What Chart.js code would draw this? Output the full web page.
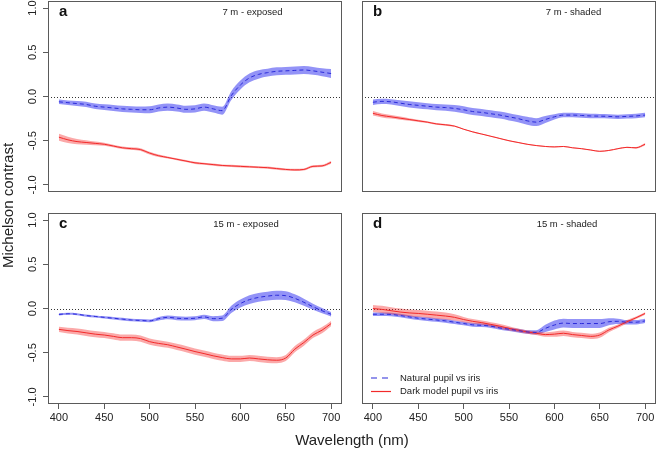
<!DOCTYPE html>
<html>
<head>
<meta charset="utf-8">
<script src="https://cdn.jsdelivr.net/npm/chart.js@4.4.1/dist/chart.umd.min.js"></script>
<style>
body { margin: 0; background: #fff; }
#wrap { position: relative; width: 657px; height: 450px; overflow: hidden; font-family: "Liberation Sans", Arial, sans-serif; }
canvas { position: absolute; }
.ttl { position: absolute; font-size: 15px; font-weight: normal; line-height: 17px; color: #222; white-space: nowrap; text-align: center; }
#xt { left: 252px; top: 431px; width: 200px; }
#yt { left: -1px; top: 105px; width: 17px; height: 200px; writing-mode: vertical-rl; transform: rotate(180deg); }
</style>
</head>
<body>
<div id="wrap">
    <canvas id="pa" width="350" height="205" style="left:0;top:0"></canvas>
    <canvas id="pb" width="307" height="205" style="left:350px;top:0"></canvas>
    <canvas id="pc" width="350" height="245" style="left:0;top:205px"></canvas>
    <canvas id="pd" width="307" height="245" style="left:350px;top:205px"></canvas>
    <div class="ttl" id="xt">Wavelength (nm)</div>
    <div class="ttl" id="yt">Michelson contrast</div>
</div>
<script>
// wavelengths (nm) and tick values
const wavelengths = [400, 410, 420, 430, 440, 450, 460, 470, 480, 490, 500, 510, 520, 530, 540, 550, 560, 570, 580, 590, 600, 610, 620, 630, 640, 650, 660, 670, 680, 690, 700];
const xTicks = [400, 450, 500, 550, 600, 650, 700];
const yTicks = [-1, -0.5, 0, 0.5, 1];

// a: 7 m - exposed
const aNatural = [-0.06, -0.07, -0.08, -0.09, -0.11, -0.12, -0.13, -0.14, -0.145, -0.15, -0.15, -0.13, -0.12, -0.13, -0.145, -0.14, -0.12, -0.14, -0.16, 0.01, 0.13, 0.21, 0.25, 0.27, 0.285, 0.29, 0.295, 0.30, 0.29, 0.275, 0.26];
const aNaturalBand = [0.025, 0.025, 0.028, 0.03, 0.03, 0.032, 0.035, 0.035, 0.035, 0.038, 0.04, 0.04, 0.04, 0.04, 0.04, 0.04, 0.04, 0.042, 0.045, 0.05, 0.05, 0.05, 0.048, 0.045, 0.045, 0.045, 0.045, 0.045, 0.045, 0.045, 0.05];
const aDark = [-0.46, -0.49, -0.51, -0.52, -0.53, -0.54, -0.56, -0.58, -0.59, -0.60, -0.64, -0.67, -0.69, -0.71, -0.73, -0.75, -0.76, -0.77, -0.78, -0.785, -0.79, -0.795, -0.80, -0.805, -0.815, -0.825, -0.83, -0.825, -0.79, -0.785, -0.745];
const aDarkBand = [0.04, 0.035, 0.03, 0.025, 0.02, 0.018, 0.015, 0.015, 0.015, 0.015, 0.015, 0.015, 0.012, 0.012, 0.012, 0.012, 0.012, 0.012, 0.012, 0.012, 0.012, 0.012, 0.012, 0.012, 0.012, 0.012, 0.012, 0.012, 0.012, 0.012, 0.015];

// b: 7 m - shaded
const bNatural = [-0.065, -0.055, -0.06, -0.075, -0.09, -0.10, -0.11, -0.12, -0.125, -0.135, -0.15, -0.17, -0.18, -0.195, -0.21, -0.23, -0.25, -0.275, -0.29, -0.26, -0.23, -0.21, -0.21, -0.215, -0.22, -0.222, -0.225, -0.23, -0.225, -0.22, -0.21];
const bNaturalBand = [0.03, 0.03, 0.03, 0.032, 0.035, 0.035, 0.035, 0.035, 0.035, 0.038, 0.04, 0.04, 0.04, 0.04, 0.04, 0.04, 0.04, 0.045, 0.045, 0.04, 0.03, 0.025, 0.025, 0.025, 0.025, 0.025, 0.025, 0.025, 0.025, 0.025, 0.025];
const bDark = [-0.19, -0.215, -0.23, -0.245, -0.26, -0.275, -0.29, -0.31, -0.32, -0.335, -0.37, -0.40, -0.425, -0.45, -0.475, -0.50, -0.52, -0.54, -0.555, -0.565, -0.57, -0.565, -0.58, -0.59, -0.605, -0.62, -0.61, -0.59, -0.575, -0.58, -0.54];
const bDarkBand = [0.025, 0.022, 0.02, 0.018, 0.015, 0.012, 0.01, 0.01, 0.01, 0.008, 0.006, 0.006, 0.006, 0.006, 0.006, 0.006, 0.006, 0.006, 0.006, 0.006, 0.006, 0.006, 0.006, 0.006, 0.006, 0.006, 0.006, 0.006, 0.008, 0.01, 0.015];

// c: 15 m - exposed
const cNatural = [-0.067, -0.06, -0.065, -0.08, -0.09, -0.10, -0.11, -0.12, -0.13, -0.135, -0.14, -0.115, -0.10, -0.11, -0.115, -0.11, -0.095, -0.115, -0.11, -0.01, 0.056, 0.10, 0.125, 0.14, 0.15, 0.145, 0.115, 0.07, 0.02, -0.025, -0.065];
const cNaturalBand = [0.012, 0.012, 0.012, 0.012, 0.012, 0.012, 0.014, 0.015, 0.015, 0.015, 0.015, 0.02, 0.022, 0.022, 0.022, 0.022, 0.025, 0.028, 0.03, 0.04, 0.045, 0.05, 0.05, 0.05, 0.05, 0.05, 0.045, 0.04, 0.035, 0.03, 0.025];
const cDark = [-0.236, -0.25, -0.26, -0.275, -0.29, -0.30, -0.315, -0.33, -0.33, -0.34, -0.375, -0.395, -0.41, -0.435, -0.46, -0.487, -0.51, -0.535, -0.555, -0.57, -0.57, -0.56, -0.57, -0.58, -0.585, -0.56, -0.46, -0.385, -0.30, -0.245, -0.17];
const cDarkBand = [0.03, 0.032, 0.035, 0.035, 0.035, 0.035, 0.035, 0.035, 0.035, 0.035, 0.035, 0.035, 0.035, 0.035, 0.035, 0.035, 0.035, 0.035, 0.035, 0.035, 0.035, 0.035, 0.035, 0.035, 0.035, 0.035, 0.035, 0.035, 0.035, 0.035, 0.03];

// d: 15 m - shaded
const dNatural = [-0.065, -0.065, -0.067, -0.08, -0.095, -0.11, -0.12, -0.13, -0.14, -0.155, -0.17, -0.185, -0.19, -0.2, -0.22, -0.235, -0.25, -0.265, -0.27, -0.225, -0.187, -0.165, -0.17, -0.17, -0.17, -0.17, -0.15, -0.145, -0.155, -0.155, -0.14];
const dNaturalBand = [0.02, 0.02, 0.02, 0.02, 0.02, 0.02, 0.02, 0.02, 0.02, 0.02, 0.02, 0.02, 0.02, 0.02, 0.02, 0.02, 0.02, 0.02, 0.025, 0.04, 0.05, 0.05, 0.05, 0.05, 0.05, 0.05, 0.04, 0.03, 0.025, 0.025, 0.025];
const dDark = [0.0, -0.01, -0.025, -0.04, -0.05, -0.056, -0.065, -0.075, -0.085, -0.10, -0.125, -0.145, -0.16, -0.18, -0.20, -0.225, -0.245, -0.265, -0.28, -0.295, -0.29, -0.28, -0.295, -0.305, -0.315, -0.30, -0.243, -0.2, -0.15, -0.105, -0.056];
const dDarkBand = [0.04, 0.04, 0.04, 0.04, 0.04, 0.04, 0.04, 0.04, 0.04, 0.035, 0.03, 0.025, 0.025, 0.025, 0.025, 0.025, 0.02, 0.02, 0.02, 0.025, 0.03, 0.03, 0.03, 0.03, 0.03, 0.03, 0.025, 0.02, 0.02, 0.015, 0.015];

const BLUE_LINE = "#2a2ad8";
const BLUE_BAND = "rgba(40, 40, 240, 0.5)";
const RED_LINE = "#f22a2a";
const RED_BAND = "rgba(245, 40, 40, 0.4)";
const AXIS_GREY = "#5a5a5a";
const TEXT = "#222";

Chart.defaults.font.family = '"Liberation Sans", Arial, sans-serif';
Chart.defaults.font.size = 11;
Chart.defaults.color = TEXT;

const pts = (vals) => wavelengths.map((w, i) => ({ x: w, y: vals[i] }));

function series(mean, half, lineColor, bandColor, dash, lineOrder, bandOrder) {
    const hidden = { borderColor: "rgba(0,0,0,0)", borderWidth: 0, pointRadius: 0 };
    return [
        { ...hidden, data: pts(mean.map((m, i) => m + half[i])), fill: false, order: bandOrder },
        { ...hidden, data: pts(mean.map((m, i) => m - half[i])), fill: "-1", backgroundColor: bandColor, order: bandOrder },
        { data: pts(mean), borderColor: lineColor, borderWidth: 1, borderDash: dash, pointRadius: 0, fill: false, order: lineOrder },
    ];
}

// box, zero line, panel letter, subtitle, rotated y labels, legend
const panelDecor = {
    id: "panelDecor",
    beforeDatasetsDraw(chart) {
        const { ctx, chartArea: a, scales: { y } } = chart;
        const y0 = Math.round(y.getPixelForValue(0)) + 0.5;
        ctx.save();
        ctx.strokeStyle = "#333";
        ctx.lineWidth = 1;
        ctx.setLineDash([1, 2]);
        ctx.beginPath();
        ctx.moveTo(a.left, y0);
        ctx.lineTo(a.right, y0);
        ctx.stroke();
        ctx.restore();
    },
    afterDraw(chart, args, o) {
        const { ctx, chartArea: a, scales: { y } } = chart;
        ctx.save();
        ctx.strokeStyle = AXIS_GREY;
        ctx.lineWidth = 1;
        ctx.strokeRect(a.left + 0.5, a.top + 0.5, a.right - a.left - 1, a.bottom - a.top - 1);

        ctx.fillStyle = "#111";
        ctx.textBaseline = "alphabetic";
        ctx.textAlign = "left";
        ctx.font = 'bold 15px "Liberation Sans", Arial, sans-serif';
        ctx.fillText(o.letter, a.left + 11, a.top + 15);

        ctx.fillStyle = TEXT;
        ctx.textAlign = "center";
        ctx.font = '9.5px "Liberation Sans", Arial, sans-serif';
        ctx.fillText(o.sub, a.left + o.subX, a.top + 13.5);

        if (o.yLabels) {
            ctx.font = '11px "Liberation Sans", Arial, sans-serif';
            ctx.textBaseline = "middle";
            yTicks.forEach((v) => {
                ctx.save();
                ctx.translate(a.left - 15, y.getPixelForValue(v));
                ctx.rotate(-Math.PI / 2);
                ctx.fillText(v.toFixed(1), 0, 0);
                ctx.restore();
            });
        }

        if (o.legend) {
            const lx = a.left + 9, ly = a.bottom - 26;
            ctx.lineWidth = 1.2;
            ctx.strokeStyle = BLUE_LINE;
            ctx.setLineDash([6, 5]);
            ctx.beginPath(); ctx.moveTo(lx, ly); ctx.lineTo(lx + 17, ly); ctx.stroke();
            ctx.strokeStyle = RED_LINE;
            ctx.setLineDash([]);
            ctx.beginPath(); ctx.moveTo(lx, ly + 13.5); ctx.lineTo(lx + 20, ly + 13.5); ctx.stroke();
            ctx.font = '9.5px "Liberation Sans", Arial, sans-serif';
            ctx.textAlign = "left";
            ctx.textBaseline = "middle";
            ctx.fillText("Natural pupil vs iris", lx + 29, ly);
            ctx.fillText("Dark model pupil vs iris", lx + 29, ly + 13.5);
        }
        ctx.restore();
    },
};

function makePanel(id, natural, naturalBand, dark, darkBand, deco, showX, showY, padding) {
    new Chart(document.getElementById(id), {
        type: "line",
        data: {
            datasets: [
                ...series(natural, naturalBand, BLUE_LINE, BLUE_BAND, [4, 3], 1, 5),
                ...series(dark, darkBand, RED_LINE, RED_BAND, [], 2, 4),
            ],
        },
        options: {
            responsive: false,
            animation: false,
            layout: { padding },
            elements: { line: { cubicInterpolationMode: "monotone" } },
            plugins: { legend: { display: false }, tooltip: { enabled: false }, panelDecor: deco },
            scales: {
                x: {
                    type: "linear",
                    min: 388,
                    max: 712,
                    display: showX,
                    afterBuildTicks: (s) => { s.ticks = xTicks.map((v) => ({ value: v })); },
                    afterFit: (s) => { if (showX) s.height = 46; },
                    border: { display: false },
                    grid: { drawOnChartArea: false, tickLength: 5, tickColor: AXIS_GREY },
                    ticks: { padding: 2, maxRotation: 0, font: { size: 11 }, color: TEXT },
                },
                y: {
                    min: -1.08,
                    max: 1.08,
                    display: showY,
                    afterBuildTicks: (s) => { s.ticks = yTicks.map((v) => ({ value: v })); },
                    afterFit: (s) => { if (showY) s.width = 48; },
                    border: { display: false },
                    grid: { drawOnChartArea: false, tickLength: 5, tickColor: AXIS_GREY },
                    ticks: { display: false },
                },
            },
        },
        plugins: [panelDecor],
    });
}

makePanel("pa", aNatural, aNaturalBand, aDark, aDarkBand,
    { letter: "a", sub: "7 m - exposed", subX: 204.5, yLabels: true }, false, true,
    { top: 1, right: 8, bottom: 13, left: 0 });
makePanel("pb", bNatural, bNaturalBand, bDark, bDarkBand,
    { letter: "b", sub: "7 m - shaded", subX: 211.5 }, false, false,
    { top: 1, right: 1, bottom: 13, left: 12 });
makePanel("pc", cNatural, cNaturalBand, cDark, cDarkBand,
    { letter: "c", sub: "15 m - exposed", subX: 198, yLabels: true }, true, true,
    { top: 8, right: 8, bottom: 0, left: 0 });
makePanel("pd", dNatural, dNaturalBand, dDark, dDarkBand,
    { letter: "d", sub: "15 m - shaded", subX: 205, legend: true }, true, false,
    { top: 8, right: 1, bottom: 0, left: 12 });
</script>
</body>
</html>
